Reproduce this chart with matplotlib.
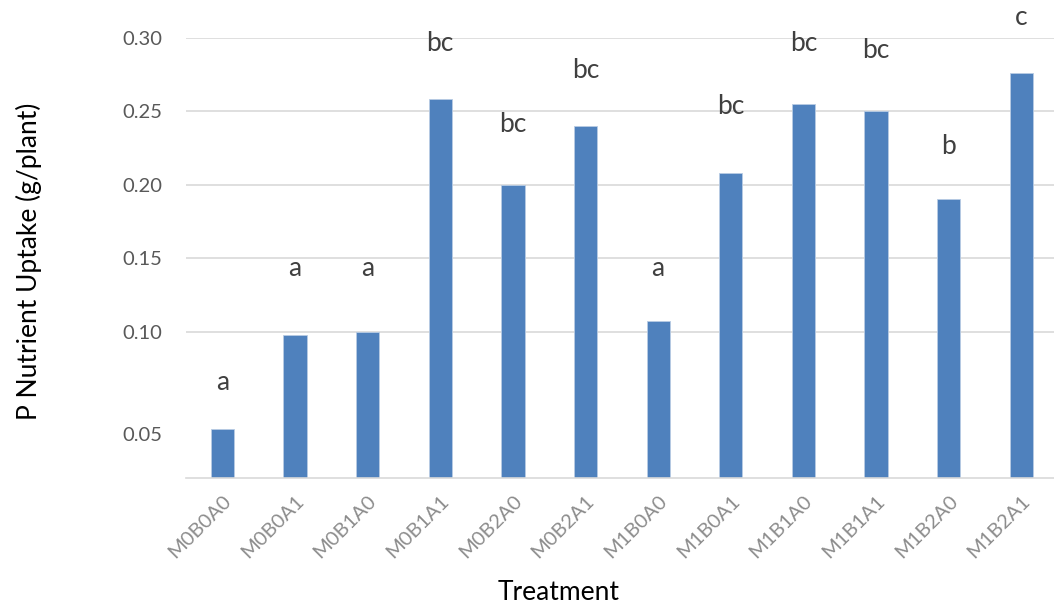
import numpy as np
import matplotlib.pyplot as plt

# treatments and P uptake
treatments = ['M0B0A0', 'M0B0A1', 'M0B1A0', 'M0B1A1', 'M0B2A0', 'M0B2A1',
              'M1B0A0', 'M1B0A1', 'M1B1A0', 'M1B1A1', 'M1B2A0', 'M1B2A1']
uptake = [0.034, 0.098, 0.100, 0.258, 0.200, 0.240,
          0.107, 0.208, 0.255, 0.250, 0.190, 0.276]
letters = ['a', 'a', 'a', 'bc', 'bc', 'bc', 'a', 'bc', 'bc', 'bc', 'b', 'c']
letter_y = [0.065, 0.143, 0.143, 0.296, 0.241, 0.278,
            0.143, 0.253, 0.296, 0.291, 0.226, 0.314]

# axis ticks (the 0.05 label sits lower than its value in the original)
ytick_pos = [0.0304, 0.10, 0.15, 0.20, 0.25, 0.30]
ytick_lab = ['0.05', '0.10', '0.15', '0.20', '0.25', '0.30']
grid_y = [0.10, 0.15, 0.20, 0.25, 0.30]

plt.rcParams['font.family'] = ['Lato', 'DejaVu Sans']

fig = plt.figure(figsize=(10.54, 6.08), dpi=100)
ax = fig.add_axes([0.1765, 0.213, 0.827, 0.725])

x = np.arange(len(treatments))
for gy in grid_y:
    ax.axhline(gy, color='#d9d9d9', lw=1.2, zorder=0)
ax.bar(x, uptake, width=0.32, color='#4f81bd', edgecolor='#b8cce4', lw=0.6, zorder=2)

for xi, lab, ly in zip(x, letters, letter_y):
    ax.text(xi, ly, lab, ha='center', va='center', fontsize=19, color='#404040', clip_on=False)

ax.set_xlim(-0.5, len(treatments) - 0.5)
ax.set_ylim(0, 0.30)
ax.set_yticks(ytick_pos)
ax.set_yticklabels(ytick_lab, fontsize=14.5, color='#595959')
ax.set_xticks(x)
ax.set_xticklabels(treatments, rotation=45, ha='right', rotation_mode='anchor',
                   fontsize=14.5, color='#8c8c8c')
ax.tick_params(axis='y', length=0, pad=17)
ax.tick_params(axis='x', length=0, pad=10)

for s in ['top', 'right', 'left']:
    ax.spines[s].set_visible(False)
ax.spines['bottom'].set_color('#d9d9d9')
ax.spines['bottom'].set_linewidth(1.2)

fig.text(0.53, 0.025, 'Treatment', ha='center', va='center', fontsize=19, color='black')
fig.text(0.027, 0.57, 'P Nutrient Uptake (g/plant)', ha='center', va='center',
         rotation=90, fontsize=19, color='black')

fig.savefig('out.png', dpi=100)
